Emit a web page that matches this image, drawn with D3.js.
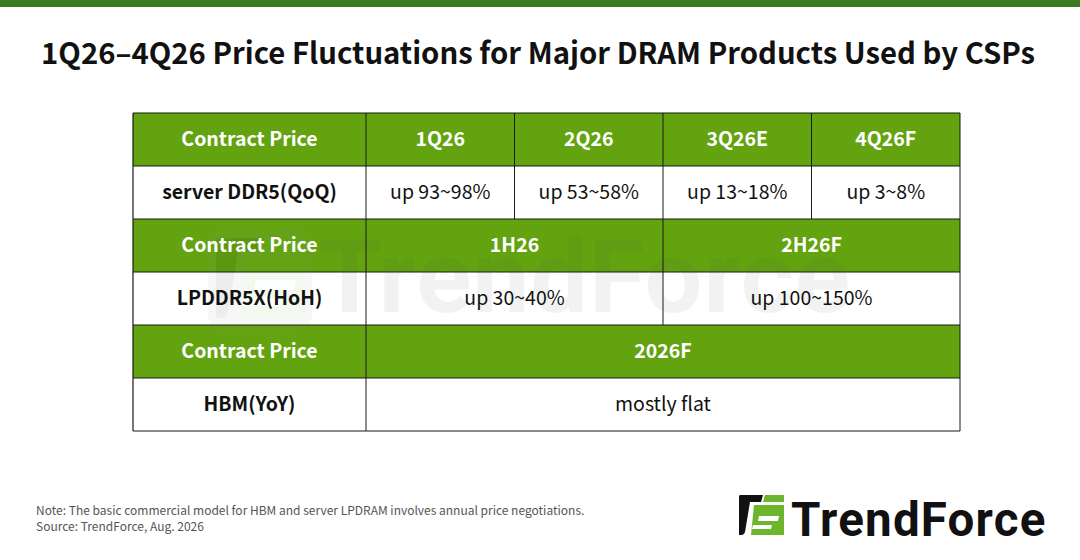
<!DOCTYPE html>
<html>
<head>
<meta charset="utf-8">
<script src="https://cdn.jsdelivr.net/npm/d3@7"></script>
<style>
  html, body { margin: 0; padding: 0; background: #fff; }
  svg { display: block; font-family: "Noto Sans CJK SC", "Noto Sans", sans-serif; }
</style>
</head>
<body>
<div id="chart"></div>
<script>
// table content
var rowLabels = ["Contract Price", "server DDR5(QoQ)", "Contract Price", "LPDDR5X(HoH)", "Contract Price", "HBM(YoY)"];
var ddr5Periods = ["1Q26", "2Q26", "3Q26E", "4Q26F"];
var ddr5Values = ["up 93~98%", "up 53~58%", "up 13~18%", "up 3~8%"];
var lpddrPeriods = ["1H26", "2H26F"];
var lpddrValues = ["up 30~40%", "up 100~150%"];
var hbmPeriods = ["2026F"];
var hbmValues = ["mostly flat"];

var titleText = "1Q26\u20134Q26 Price Fluctuations for Major DRAM Products Used by CSPs";
var noteLines = ["Note: The basic commercial model for HBM and server LPDRAM involves annual price negotiations.",
	"Source: TrendForce, Aug. 2026"];

(function() {
	var width = 1080, height = 560;
	var green = '#62a30f';

	var svg = d3.select('#chart').append('svg')
		.attr('width', width)
		.attr('height', height);

	// top bar
	svg.append('rect').attr('x', 0).attr('y', 0).attr('width', width).attr('height', 7).attr('fill', '#3b7a20');

	svg.append('text')
		.attr('x', 538).attr('y', 64)
		.attr('text-anchor', 'middle')
		.attr('font-size', 29.3).attr('font-weight', 700).attr('fill', '#111')
		.text(titleText);

	// scales: rows and the value columns
	var y = d3.scaleBand().domain(d3.range(rowLabels.length)).range([113, 431]);
	var x = d3.scaleLinear().domain([0, 4]).range([366, 960]);
	var left = 133;

	var groups = [
		[ddr5Periods, ddr5Values],
		[lpddrPeriods, lpddrValues],
		[hbmPeriods, hbmValues]
	];
	var rows = [];
	groups.forEach(function(g, gi) {
		rows.push({ header: true, label: rowLabels[gi * 2], cells: g[0] });
		rows.push({ header: false, label: rowLabels[gi * 2 + 1], cells: g[1] });
	});

	var bgLayer = svg.append('g');
	var wm = svg.append('g').attr('opacity', 0.07);
	var textLayer = svg.append('g');
	var lineLayer = svg.append('g');

	// cell backgrounds
	bgLayer.selectAll('rect').data(rows).enter().append('rect')
		.attr('x', left).attr('y', function(d, i) { return y(i); })
		.attr('width', x(4) - left).attr('height', y.bandwidth())
		.attr('fill', function(d) { return d.header ? green : '#fff'; });

	var rowG = textLayer.selectAll('g.row').data(rows).enter().append('g')
		.attr('class', 'row')
		.attr('transform', function(d, i) { return 'translate(0,' + y(i) + ')'; });

	rowG.append('text')
		.attr('x', (left + x(0)) / 2).attr('y', y.bandwidth() / 2 + 6.5)
		.attr('text-anchor', 'middle')
		.attr('font-size', 19.5).attr('font-weight', 700)
		.attr('fill', function(d) { return d.header ? '#fff' : '#111'; })
		.text(function(d) { return d.label; });

	rowG.each(function(d, i) {
		var span = 4 / d.cells.length;
		d3.select(this).selectAll('text.cell').data(d.cells).enter().append('text')
			.attr('class', 'cell')
			.attr('x', function(c, j) { return (x(j * span) + x((j + 1) * span)) / 2; })
			.attr('y', y.bandwidth() / 2 + 6.5)
			.attr('text-anchor', 'middle')
			.attr('font-size', 19.5)
			.attr('font-weight', d.header ? 700 : 400)
			.attr('fill', d.header ? '#fff' : '#111')
			.text(function(c) { return c; });
		// column dividers
		lineLayer.selectAll(null).data(d3.range(d.cells.length + 1)).enter().append('line')
			.attr('x1', function(j) { return x(j * span); })
			.attr('x2', function(j) { return x(j * span); })
			.attr('y1', y(i)).attr('y2', y(i) + y.bandwidth())
			.attr('stroke', '#1a1a1a').attr('stroke-width', 1);
	});

	// horizontal lines and left edge
	lineLayer.selectAll('line.h').data(d3.range(rows.length + 1)).enter().append('line')
		.attr('class', 'h')
		.attr('x1', left).attr('x2', x(4))
		.attr('y1', function(i) { return i < rows.length ? y(i) : y.range()[1]; })
		.attr('y2', function(i) { return i < rows.length ? y(i) : y.range()[1]; })
		.attr('stroke', '#1a1a1a').attr('stroke-width', 1.2);
	lineLayer.append('line').attr('x1', left).attr('x2', left).attr('y1', y.range()[0]).attr('y2', y.range()[1])
		.attr('stroke', '#1a1a1a').attr('stroke-width', 1.2);

	// logo mark, 46 x 41 units
	function logoMark(g, s) {
		var m = g.append('g').attr('transform', 'scale(' + s + ')');
		m.append('path').attr('d', 'M2,0 L25,0 L23,7 L12,7 L7,37 Q6,40 3,40 L1,40 L1,2 Q1,0 2,0 Z').attr('fill', '#111');
		m.append('path').attr('d', 'M27,0 L46,0 L46,7 L25,7 Z').attr('fill', '#6cb52c');
		m.append('path').attr('d', 'M16,10 L46,10 L46,40 L13,40 Z').attr('fill', '#6cb52c');
		m.append('path').attr('d', 'M21,21 L41,21 L40,26 L20,26 Z').attr('fill', '#fff');
		m.append('path').attr('d', 'M15,30 L34,30 L33,34 L14,34 Z').attr('fill', '#fff');
	}

	// faint watermark
	wm.append('rect').attr('x', 208).attr('y', 230).attr('width', 104).attr('height', 100).attr('rx', 14)
		.attr('fill', '#999');
	var wmIcon = wm.append('g').attr('transform', 'translate(214,238)');
	logoMark(wmIcon, 2.0);
	wm.append('text').attr('x', 318).attr('y', 312)
		.attr('font-family', 'Roboto, "DejaVu Sans", sans-serif')
		.attr('font-size', 102).attr('font-weight', 700).attr('fill', '#555')
		.attr('letter-spacing', 1)
		.text('TrendForce');

	// footnote
	svg.selectAll('text.note').data(noteLines).enter().append('text')
		.attr('class', 'note')
		.attr('x', 36).attr('y', function(d, i) { return 515 + i * 16; })
		.attr('font-size', 12).attr('fill', '#555')
		.text(function(d) { return d; });

	// bottom logo
	var logo = svg.append('g').attr('transform', 'translate(738,495)');
	logoMark(logo, 1.0);
	svg.append('text').attr('x', 791).attr('y', 536)
		.attr('font-family', 'Roboto, "DejaVu Sans", sans-serif')
		.attr('font-size', 47.5).attr('font-weight', 700).attr('fill', '#111')
		.attr('letter-spacing', 1.2)
		.text('TrendForce');
}());
</script>
</body>
</html>
